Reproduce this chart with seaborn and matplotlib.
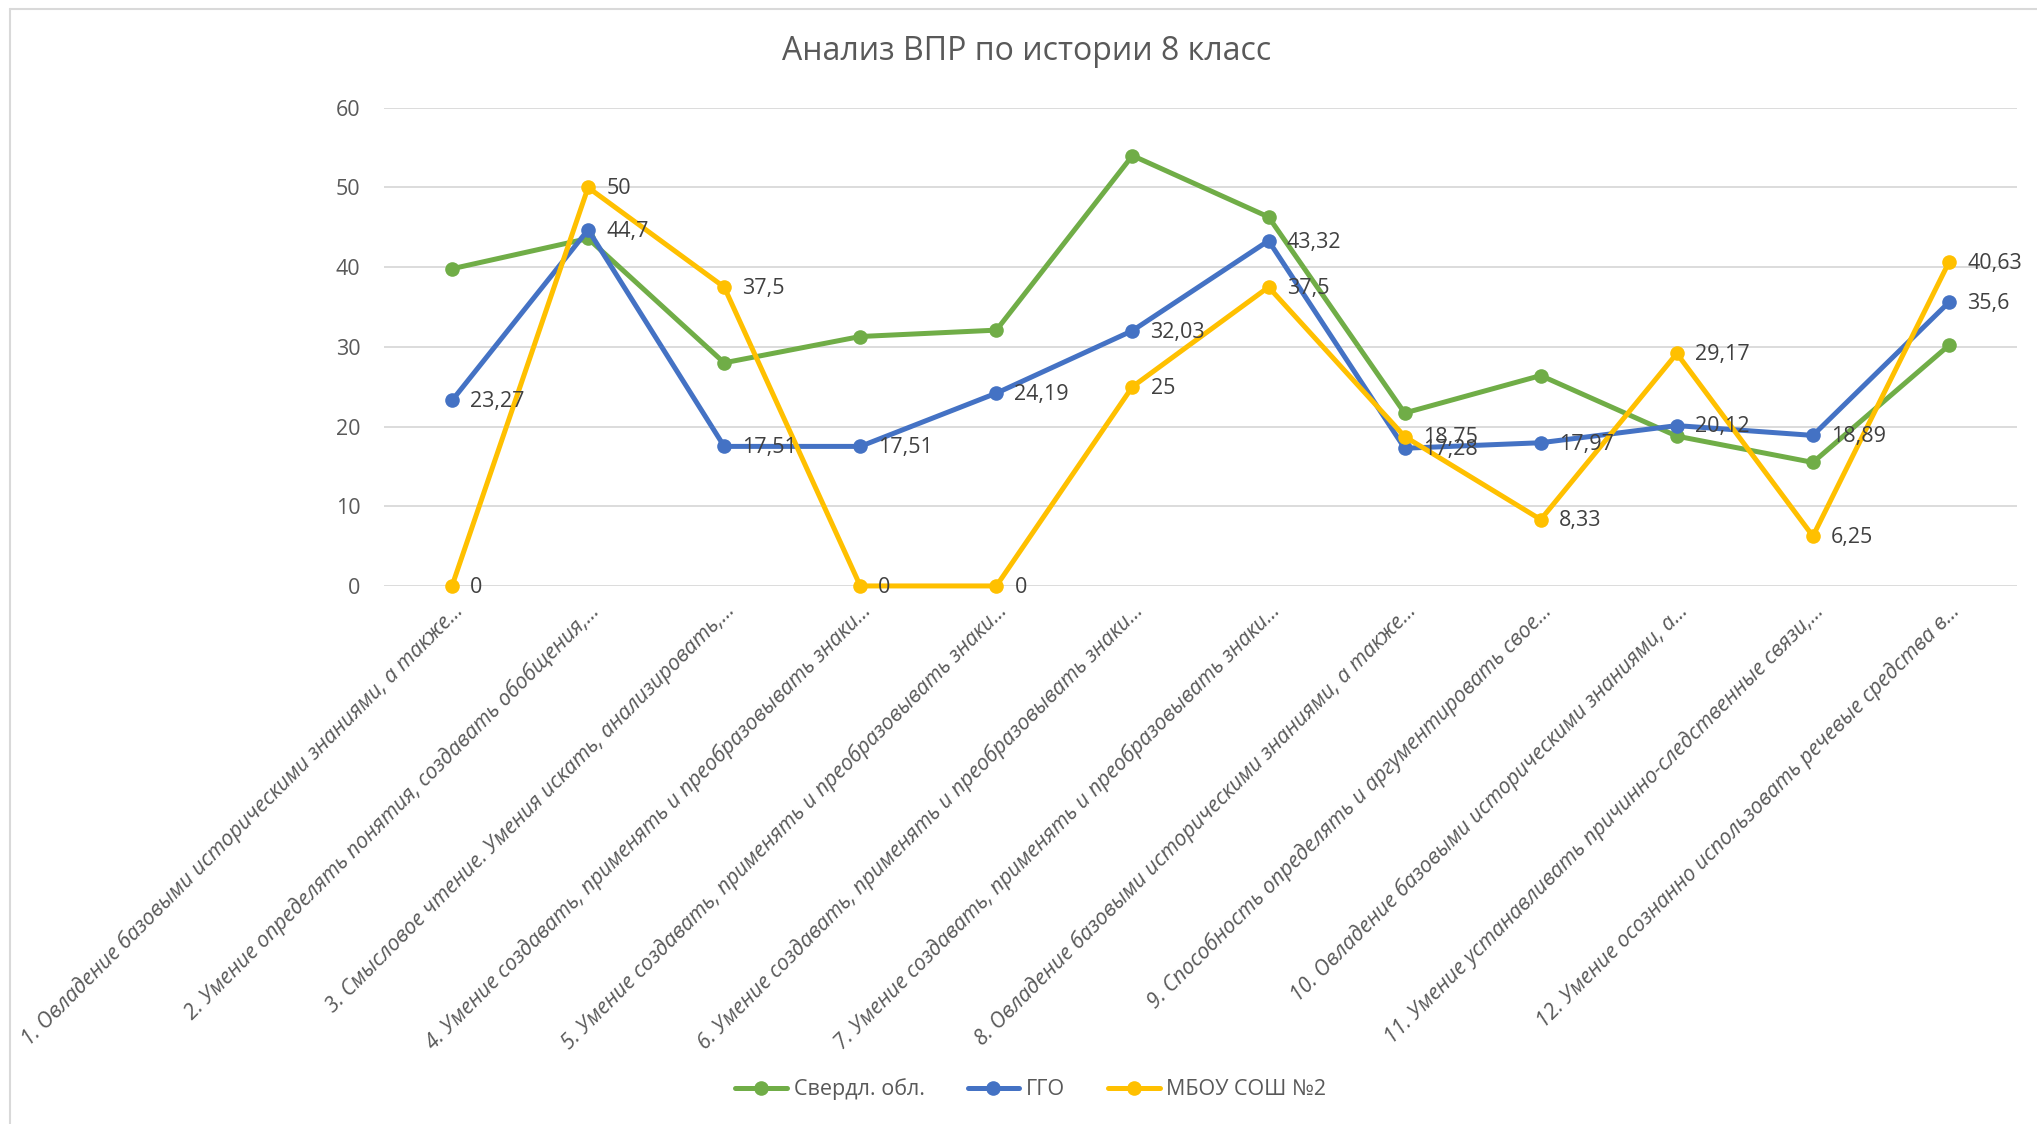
import numpy as np
import pandas as pd
import seaborn as sns
import matplotlib.pyplot as plt
from matplotlib.transforms import ScaledTranslation

# task labels (truncated as in the source chart)
tasks = [
    '1. Овладение базовыми историческими знаниями, а также...',
    '2. Умение определять понятия, создавать обобщения,...',
    '3. Смысловое чтение. Умения искать, анализировать,...',
    '4. Умение создавать, применять и преобразовывать знаки...',
    '5. Умение создавать, применять и преобразовывать знаки...',
    '6. Умение создавать, применять и преобразовывать знаки...',
    '7. Умение создавать, применять и преобразовывать знаки...',
    '8. Овладение базовыми историческими знаниями, а также...',
    '9. Способность определять и аргументировать свое...',
    '10. Овладение базовыми историческими знаниями, а...',
    '11. Умение устанавливать причинно-следственные связи,...',
    '12. Умение осознанно использовать речевые средства в...',
]
series_names = ['Свердл. обл.', 'ГГО', 'МБОУ СОШ №2']
sverdl = [39.8, 43.6, 28.0, 31.3, 32.1, 54.0, 46.3, 21.7, 26.4, 18.8, 15.5, 30.2]
ggo = [23.27, 44.7, 17.51, 17.51, 24.19, 32.03, 43.32, 17.28, 17.97, 20.12, 18.89, 35.6]
school = [0, 50, 37.5, 0, 0, 25, 37.5, 18.75, 8.33, 29.17, 6.25, 40.63]
y_ticks = [0, 10, 20, 30, 40, 50, 60]
colors = ['#70AD47', '#4472C4', '#FFC000']

pos = np.arange(len(tasks))
df = pd.DataFrame({
    'pos': np.tile(pos, 3),
    'value': sverdl + ggo + school,
    'series': np.repeat(series_names, len(tasks)),
})

sns.set_style('white')
plt.rcParams['font.family'] = ['Open Sans', 'DejaVu Sans']

fig = plt.figure(figsize=(20.37, 11.24), dpi=100)
ax = fig.add_axes([0.1885, 0.4787, 0.9902 - 0.1885, 0.9041 - 0.4787])

ax.set_ylim(0, 60)
ax.set_xlim(-0.5, len(tasks) - 0.5)
ax.set_yticks(y_ticks)
ax.grid(axis='y', color='#D9D9D9', linewidth=1.3)
ax.set_axisbelow(True)
for s in ax.spines.values():
    s.set_visible(False)

sns.lineplot(data=df, x='pos', y='value', hue='series', hue_order=series_names,
             palette=colors, marker='o', markersize=10.5, markeredgewidth=0,
             linewidth=3.6, sort=False, ax=ax, clip_on=False)

# data labels for the two labelled series
grey = '#404040'
for vals in (ggo, school):
    for x, v in zip(pos, vals):
        txt = ('%g' % v).replace('.', ',')
        ax.annotate(txt, (x, v), xytext=(13, -1), textcoords='offset points',
                    ha='left', va='center', fontsize=15.5, color=grey)

ax.set_xticks(pos)
ax.set_xticklabels(tasks, rotation=45, ha='right', rotation_mode='anchor',
                   fontsize=15.3, style='italic', color='#595959')
shift = ScaledTranslation(12 / 100, 0, fig.dpi_scale_trans)
for lbl in ax.get_xticklabels():
    lbl.set_transform(lbl.get_transform() + shift)
ax.tick_params(axis='x', length=0, pad=10)
ax.tick_params(axis='y', length=0, pad=17, labelsize=15.5, labelcolor='#595959')
ax.set_xlabel('')
ax.set_ylabel('')

fig.text(0.504, 0.954, 'Анализ ВПР по истории 8 класс', ha='center', va='center',
         fontsize=23, color='#595959')

sns.move_legend(ax, 'center', bbox_to_anchor=(0.506, 0.031),
                bbox_transform=fig.transFigure, ncol=3, title=None,
                frameon=False, fontsize=15.5, handlelength=2.4,
                handletextpad=0.3, columnspacing=2.0, labelcolor='#595959')

# chart area border (top and left edges visible in the source)
fig.add_artist(plt.Line2D([0.0049, 1.0], [0.992, 0.992], color='#D9D9D9',
                          linewidth=1.5, transform=fig.transFigure))
fig.add_artist(plt.Line2D([0.0049, 0.0049], [0.0, 0.992], color='#D9D9D9',
                          linewidth=1.5, transform=fig.transFigure))

fig.savefig('out.png', dpi=100, facecolor='white')
